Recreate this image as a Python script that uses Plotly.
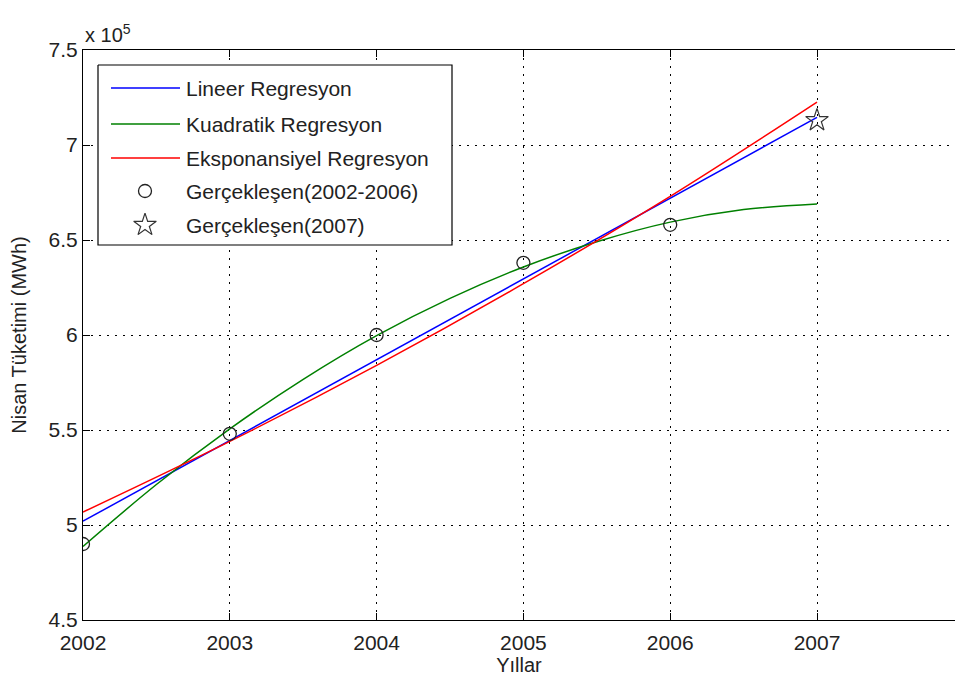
import plotly.graph_objects as go

# Observed April consumption (MWh)
years_obs = [2002, 2003, 2004, 2005, 2006]
consumption_obs = [490000, 548000, 600000, 638000, 658000]
year_2007 = [2007]
consumption_2007 = [713000]

# Regression curves evaluated over 2002-2007
years_fit = [2002, 2003, 2004, 2005, 2006, 2007]
linear_fit = [502000, 544500, 587000, 629500, 672000, 714500]
exponential_fit = [506800, 544000, 584000, 627000, 673000, 722600]

years_quad = [2002, 2002.5, 2003, 2003.5, 2004, 2004.5, 2005, 2005.5, 2006, 2006.5, 2007]
quadratic_fit = [488700, 521300, 550600, 576700, 599700, 619300, 635800, 649100, 659400, 666000, 669000]

y_ticks = [450000, 500000, 550000, 600000, 650000, 700000, 750000]
y_tick_text = ["4.5", "5", "5.5", "6", "6.5", "7", "7.5"]
x_ticks = [2002, 2003, 2004, 2005, 2006, 2007]

legend_labels = [
    "Lineer Regresyon",
    "Kuadratik Regresyon",
    "Eksponansiyel Regresyon",
    "Gerçekleşen(2002-2006)",
    "Gerçekleşen(2007)",
]

FONT = "Liberation Sans, Arial, sans-serif"
TEXT = "#222222"
FS = 21
BLUE, GREEN, RED = "#0000ff", "#008000", "#ff0000"

fig = go.Figure()
fig.add_trace(go.Scatter(x=years_fit, y=linear_fit, mode="lines",
                         line=dict(color=BLUE, width=1.5)))
fig.add_trace(go.Scatter(x=years_quad, y=quadratic_fit, mode="lines",
                         line=dict(color=GREEN, width=1.5, shape="spline")))
fig.add_trace(go.Scatter(x=years_fit, y=exponential_fit, mode="lines",
                         line=dict(color=RED, width=1.5, shape="spline")))
fig.add_trace(go.Scatter(x=years_obs, y=consumption_obs, mode="markers",
                         marker=dict(symbol="circle-open", size=13,
                                     color="#222222", line=dict(width=1.3))))
fig.add_trace(go.Scatter(x=year_2007, y=consumption_2007, mode="markers",
                         marker=dict(symbol="star-open", size=17,
                                     color="#333333", line=dict(width=1.2))))

# Legend drawn on a pixel-space overlay axis pair (x2/y2), on top of the data
L_X0, L_X1, L_Y0, L_Y1 = 98, 452, 65, 245
row_y = [88, 124, 158, 191, 225]
fig.add_trace(go.Scatter(
    x=[L_X0, L_X1, L_X1, L_X0, L_X0], y=[L_Y0, L_Y0, L_Y1, L_Y1, L_Y0],
    xaxis="x2", yaxis="y2", mode="lines", fill="toself", fillcolor="white",
    line=dict(color="black", width=1.2), hoverinfo="skip"))
for yy, col in zip(row_y[:3], [BLUE, GREEN, RED]):
    fig.add_trace(go.Scatter(x=[111, 180], y=[yy, yy], xaxis="x2", yaxis="y2",
                             mode="lines", line=dict(color=col, width=1.5),
                             hoverinfo="skip"))
fig.add_trace(go.Scatter(x=[145], y=[row_y[3]], xaxis="x2", yaxis="y2", mode="markers",
                         marker=dict(symbol="circle-open", size=13, color="#222222",
                                     line=dict(width=1.3)), hoverinfo="skip"))
fig.add_trace(go.Scatter(x=[145], y=[row_y[4]], xaxis="x2", yaxis="y2", mode="markers",
                         marker=dict(symbol="star-open", size=17, color="#333333",
                                     line=dict(width=1.2)), hoverinfo="skip"))
for yy, label in zip(row_y, legend_labels):
    fig.add_annotation(x=184, y=yy, xref="x2", yref="y2", text=label, showarrow=False,
                       xanchor="left", yanchor="middle",
                       font=dict(family=FONT, size=FS, color=TEXT))

fig.add_annotation(x=0, y=1, xref="paper", yref="paper", text="x 10<sup>5</sup>",
                   showarrow=False, xanchor="left", yanchor="bottom", yshift=2,
                   font=dict(family=FONT, size=20, color=TEXT))

fig.update_layout(
    width=956, height=684,
    margin=dict(l=83, r=1, t=50, b=64),
    paper_bgcolor="white", plot_bgcolor="white",
    showlegend=False,
    font=dict(family=FONT, size=FS, color=TEXT),
    xaxis=dict(
        range=[2002, 2007.94], tickvals=x_ticks, ticktext=[str(v) for v in x_ticks],
        showline=True, linecolor="black", linewidth=1.2, mirror="ticks",
        ticks="inside", ticklen=7, tickcolor="black", ticklabelstandoff=4,
        tickfont=dict(family=FONT, size=FS, color=TEXT),
        showgrid=True, gridcolor="black", gridwidth=1, griddash="2px,6px",
        zeroline=False,
        title=dict(text="Yıllar", font=dict(family=FONT, size=20, color=TEXT), standoff=3),
    ),
    yaxis=dict(
        range=[450000, 750000], tickvals=y_ticks, ticktext=y_tick_text,
        showline=True, linecolor="black", linewidth=1.2, mirror=False,
        ticks="inside", ticklen=7, tickcolor="black",
        tickfont=dict(family=FONT, size=FS, color=TEXT),
        showgrid=True, gridcolor="black", gridwidth=1, griddash="2px,6px",
        zeroline=False,
        title=dict(text="Nisan Tüketimi (MWh)", font=dict(family=FONT, size=20, color=TEXT),
                   standoff=16),
    ),
    xaxis2=dict(range=[83, 955], overlaying="x", visible=False, fixedrange=True),
    yaxis2=dict(range=[620, 50], overlaying="y", visible=False, fixedrange=True),
)

fig.write_html("out.html")
